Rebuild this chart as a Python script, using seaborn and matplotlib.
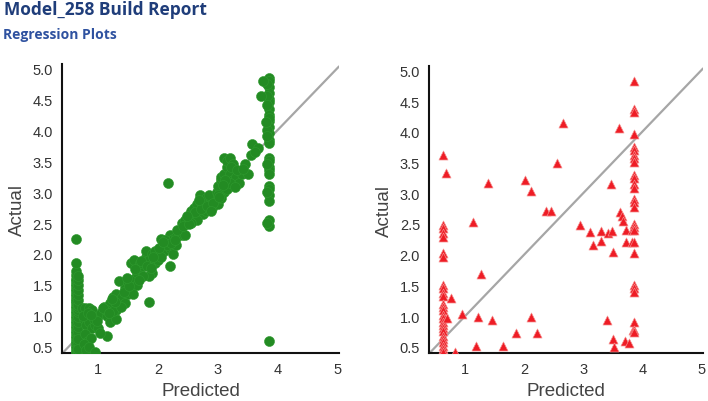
import matplotlib
matplotlib.use("Agg")
import matplotlib.pyplot as plt
import pandas as pd
import seaborn as sns

# Training set: predicted vs actual (green circles)
TRAIN_PRED = (
    [0.62] * 34 + [0.65] * 20 +
    [3.85] * 26 + [3.82] * 8 +
    [0.72, 0.78, 0.85, 0.90, 0.75, 0.80, 0.85, 0.90, 0.95, 0.78, 0.82, 0.88, 0.75, 0.92, 1.00, 1.00, 0.80, 0.85,
     1.05, 1.10, 1.15, 1.20, 1.25, 1.30, 1.20, 1.30, 1.30, 1.35, 1.40, 1.45, 1.35, 1.50, 1.50, 1.55, 1.45, 1.12, 1.25, 1.38,
     1.55, 1.60, 1.60, 1.65, 1.70, 1.75, 1.80, 1.80, 1.85, 1.90, 1.95, 1.90, 1.85, 1.70, 1.75, 2.00, 2.00, 1.95, 1.65, 1.58,
     2.05, 2.10, 2.15, 2.20, 2.25, 2.30, 2.10, 2.20, 2.25, 2.05, 2.20, 2.30, 2.35, 2.40, 2.45, 2.40, 2.45, 2.15,
     2.50, 2.55, 2.60, 2.65, 2.70, 2.70, 2.75, 2.80, 2.85, 2.90, 2.95, 2.90, 2.60, 2.65, 2.55, 2.80, 2.85, 3.00, 2.98, 2.75,
     3.00, 3.05, 3.05, 3.10, 3.15, 3.10, 3.15, 3.20, 3.25, 3.20, 3.10, 3.15, 3.25, 3.30, 3.35, 3.05, 3.20, 3.00, 3.40, 3.45,
     3.57, 3.55, 3.50, 3.67, 3.62, 3.72, 3.76, 3.80,
     2.17, 1.85, 1.15, 0.95, 0.63,
     0.74, 0.83, 0.97, 1.08, 1.18, 1.28, 1.42, 1.52, 1.62, 1.72, 1.82, 1.92, 2.02, 2.12, 2.22, 2.32, 2.42,
     2.52, 2.62, 2.72, 2.82, 2.92, 3.02, 3.12, 3.22, 3.32, 3.42, 1.48, 1.68, 1.88, 2.08, 2.28, 2.48, 2.68,
     2.88, 3.08, 3.28, 0.88, 1.02, 1.22]
)
TRAIN_ACT = (
    [0.40, 0.44, 0.48, 0.52, 0.56, 0.60, 0.64, 0.68, 0.72, 0.76, 0.80, 0.84, 0.88, 0.92, 0.96, 1.00, 1.04,
     1.08, 1.12, 1.16, 1.20, 1.24, 1.28, 1.32, 1.36, 1.40, 1.44, 1.48, 1.52, 1.56, 1.60, 1.66, 1.72, 1.85] +
    [0.42, 0.50, 0.58, 0.66, 0.74, 0.82, 0.90, 0.98, 1.06, 1.10, 1.14, 1.18, 1.26, 1.34, 1.42, 1.50, 1.58,
     1.64, 0.46, 0.62] +
    [4.85, 4.80, 4.70, 4.60, 4.50, 4.45, 4.35, 4.25, 4.15, 4.05, 3.95, 3.85, 3.80, 3.55, 3.50, 3.40, 3.35,
     3.30, 3.10, 3.05, 2.95, 2.85, 2.55, 2.45, 0.60, 4.20] +
    [4.75, 4.55, 4.40, 4.00, 3.90, 3.45, 3.00, 2.50] +
    [1.12, 1.13, 1.13, 1.10, 0.95, 0.85, 0.90, 0.80, 0.85, 0.70, 0.60, 0.65, 0.55, 0.95, 1.00, 0.80, 0.45, 0.50,
     1.05, 1.15, 1.00, 1.20, 1.30, 1.35, 0.90, 0.95, 1.10, 1.25, 1.30, 1.45, 1.57, 1.55, 1.35, 1.40, 1.20, 1.10, 1.08, 1.15,
     1.85, 1.90, 1.60, 1.70, 1.75, 1.80, 1.95, 2.05, 1.90, 2.00, 1.85, 1.70, 1.65, 1.85, 1.65, 2.00, 1.90, 2.05, 1.50, 1.35,
     2.25, 2.15, 2.20, 2.30, 2.25, 2.28, 2.05, 2.10, 2.00, 1.95, 1.80, 2.15, 2.35, 2.50, 2.55, 2.30, 2.30, 2.15,
     2.60, 2.70, 2.75, 2.80, 2.85, 2.95, 2.65, 2.70, 2.80, 2.90, 2.85, 2.75, 2.60, 2.55, 2.50, 2.90, 2.95, 2.80, 3.00, 2.80,
     3.10, 3.20, 3.25, 3.30, 3.40, 3.55, 3.50, 3.55, 3.45, 3.30, 3.00, 3.05, 3.20, 3.25, 3.15, 2.90, 3.15, 2.95, 3.30, 3.45,
     3.78, 3.60, 3.30, 3.72, 3.65, 4.55, 4.80, 4.13,
     3.15, 1.22, 0.68, 0.42, 2.25,
     1.00, 1.05, 0.92, 1.12, 1.05, 1.22, 1.38, 1.48, 1.75, 1.88, 1.80, 1.95, 2.10, 2.22, 2.18, 2.38, 2.45,
     2.48, 2.68, 2.72, 2.78, 2.82, 2.92, 3.20, 3.40, 3.35, 3.38, 1.62, 1.58, 1.78, 2.20, 2.22, 2.62, 2.88,
     2.70, 3.12, 3.08, 1.02, 0.72, 1.28]
)

# Test set: predicted vs actual (red triangles)
TEST_PRED = (
    [0.63] * 26 +
    [0.67, 0.77, 0.70, 0.83, 0.94, 1.13, 1.18, 1.22, 1.27, 1.38, 1.46, 1.64, 1.87, 2.01, 2.12, 2.12, 2.22,
     2.37, 2.45, 2.56, 2.65, 2.95, 3.12, 3.16, 3.31, 3.31, 3.42, 3.47, 3.48, 3.50, 3.40, 3.50, 3.52, 3.60,
     3.63, 3.65, 3.67, 3.72, 3.72, 3.70, 3.77, 3.83, 3.83, 3.84] +
    [3.86] * 27
)
TEST_ACT = (
    [3.63, 2.48, 2.43, 2.35, 2.28, 2.02, 1.97, 1.50, 1.45, 1.38, 1.32, 1.20, 1.15, 1.10, 1.02, 0.97, 0.90,
     0.85, 0.80, 0.75, 0.68, 0.63, 0.58, 0.52, 0.47, 0.42] +
    [3.33, 1.29, 0.97, 0.42, 1.04, 2.53, 0.52, 0.98, 1.68, 3.16, 0.94, 0.52, 0.73, 3.21, 3.04, 0.98, 0.72,
     2.71, 2.71, 3.49, 4.15, 2.49, 2.37, 2.16, 2.38, 2.22, 2.36, 3.15, 2.38, 2.05, 0.93, 0.62, 0.50, 4.06,
     2.70, 2.63, 2.55, 2.40, 2.20, 0.60, 0.57, 2.20, 2.40, 0.77] +
    [4.82, 4.37, 4.32, 3.97, 3.75, 3.70, 3.63, 3.57, 3.50, 3.30, 3.25, 3.15, 3.08, 2.90, 2.85, 2.78, 2.50,
     2.45, 2.40, 2.20, 2.03, 1.50, 1.45, 1.40, 0.90, 0.78, 0.74]
)

X_TICKS = [1, 2, 3, 4, 5]
Y_TICKS = [0.5, 1.0, 1.5, 2.0, 2.5, 3.0, 3.5, 4.0, 4.5, 5.0]

sns.set_style("white")
plt.rcParams["font.family"] = ["Liberation Sans", "DejaVu Sans"]

train = pd.DataFrame({"Predicted": TRAIN_PRED, "Actual": TRAIN_ACT})
test = pd.DataFrame({"Predicted": TEST_PRED, "Actual": TEST_ACT})

fig = plt.figure(figsize=(7.08, 4.02), dpi=100)
ax1 = fig.add_axes([0.0876, 0.1194, 0.3912, 0.7189])
ax2 = fig.add_axes([0.606, 0.1194, 0.387, 0.7139])

sns.scatterplot(data=train, x="Predicted", y="Actual", ax=ax1, marker="o", s=52,
                color="#238b23", edgecolor="#2f9a2f", linewidth=0.4, zorder=3)
sns.scatterplot(data=test, x="Predicted", y="Actual", ax=ax2, marker="^", s=42,
                color="#ee1c25", edgecolor="#f58a8a", linewidth=0.5, zorder=3)

for ax in (ax1, ax2):
    ax.axline((0, 0), slope=1, color="#a6a6a6", linewidth=1.6, zorder=2)
    ax.set_xlim(0.39, 5.03)
    ax.set_ylim(0.40, 5.07)
    ax.set_xticks(X_TICKS)
    ax.set_xticklabels([str(t) for t in X_TICKS])
    ax.set_yticks(Y_TICKS)
    ax.set_yticklabels([f"{t:.1f}" for t in Y_TICKS])
    for side in ("top", "right"):
        ax.spines[side].set_visible(False)
    for side in ("left", "bottom"):
        ax.spines[side].set_color("#111111")
        ax.spines[side].set_linewidth(1.5)
    ax.tick_params(axis="x", length=2.5, width=1, color="#444444", pad=4,
                   labelsize=10.5, labelcolor="#333333")
    ax.tick_params(axis="y", length=0, pad=6.5, labelsize=10.5, labelcolor="#333333")
    ax.set_xlabel("Predicted", fontsize=13.5, color="#444444", labelpad=4)
    ax.set_ylabel("Actual", fontsize=13.5, color="#444444", labelpad=5)
    ax.set_facecolor("white")

fig.text(0.006, 0.997, "Model_258 Build Report", fontsize=12.5, fontweight="bold",
         color="#1f3d7a", ha="left", va="top", family=["Open Sans", "DejaVu Sans"])
fig.text(0.004, 0.93, "Regression Plots", fontsize=10, fontweight="bold",
         color="#2f52a0", ha="left", va="top", family=["Open Sans", "DejaVu Sans"])

fig.savefig("out.png", dpi=100)
